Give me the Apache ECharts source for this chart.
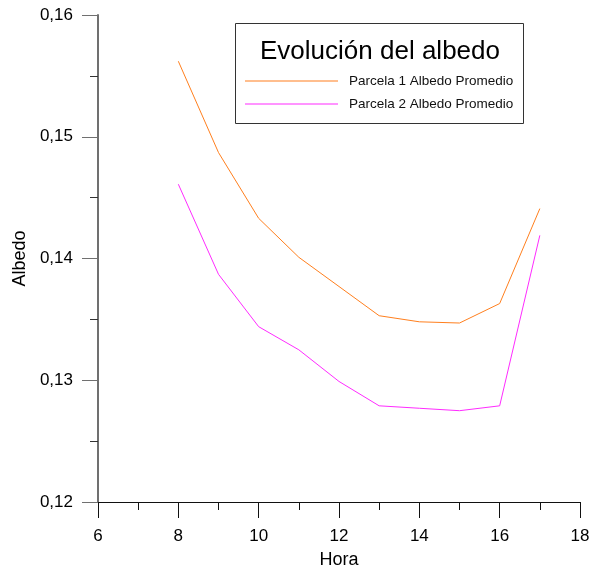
<!DOCTYPE html>
<html>
<head>
<meta charset="utf-8">
<script src="https://cdn.jsdelivr.net/npm/echarts@6/dist/echarts.min.js"></script>
<style>
  html, body { margin: 0; padding: 0; background: #fff; overflow: hidden; }
  #chart { width: 594px; height: 569px; }
</style>
</head>
<body>
<div id="chart"></div>
<script>
// Hours of the day
const horas = [8, 9, 10, 11, 12, 13, 14, 15, 16, 17];
// Mean albedo per plot
const parcela1 = [0.1562, 0.1487, 0.1433, 0.1401, 0.1377, 0.1353, 0.1348, 0.1347, 0.1363, 0.1441];
const parcela2 = [0.1461, 0.1387, 0.1344, 0.1325, 0.1299, 0.1279, 0.1277, 0.1275, 0.1279, 0.1419];
const nombres = ['Parcela 1 Albedo Promedio', 'Parcela 2 Albedo Promedio'];
const titulo = 'Evolución del albedo';

const font = 'Liberation Sans, Arial, sans-serif';
const chart = echarts.init(document.getElementById('chart'));

chart.setOption({
  animation: false,
  backgroundColor: '#ffffff',
  grid: { left: 98, top: 15, width: 482, height: 487, containLabel: false, outerBoundsMode: 'none' },
  xAxis: {
    type: 'value', min: 6, max: 18, interval: 2,
    name: 'Hora', nameLocation: 'middle', nameGap: 49,
    nameTextStyle: { fontFamily: font, fontSize: 18, color: '#000' },
    axisLine: { show: true, onZero: false, lineStyle: { color: '#111', width: 1 } },
    axisTick: { show: true, inside: false, length: 16, lineStyle: { color: '#111' } },
    minorTick: { show: true, splitNumber: 2, length: 8, lineStyle: { color: '#111' } },
    axisLabel: { margin: 26, fontFamily: font, fontSize: 17, color: '#000' },
    splitLine: { show: false }
  },
  yAxis: {
    type: 'value', min: 0.12, max: 0.16, interval: 0.01,
    name: 'Albedo', nameLocation: 'middle', nameGap: 61, nameRotate: 90,
    nameTextStyle: { fontFamily: font, fontSize: 18, color: '#000' },
    axisLine: { show: true, onZero: false, lineStyle: { color: '#707070', width: 2 } },
    axisTick: { show: true, inside: false, length: 16, lineStyle: { color: '#707070', width: 1 } },
    minorTick: { show: true, splitNumber: 2, length: 8, lineStyle: { color: '#333' } },
    axisLabel: {
      margin: 25, fontFamily: font, fontSize: 17, color: '#000',
      formatter: v => v.toFixed(2).replace('.', ',')
    },
    splitLine: { show: false }
  },
  legend: {
    data: nombres.map(n => ({ name: n, icon: 'rect' })),
    orient: 'vertical',
    left: 245, top: 73, padding: 0,
    itemWidth: 93, itemHeight: 1.2, itemGap: 7,
    textStyle: { fontFamily: font, fontSize: 13.5, color: '#111', padding: [0, 0, 0, 6], lineHeight: 16 },
    selectedMode: false
  },
  graphic: [
    {
      type: 'rect', left: 235, top: 23, z: -1,
      shape: { width: 288, height: 100 },
      style: { fill: '#fff', stroke: '#333', lineWidth: 1 }
    },
    {
      type: 'text', x: 380, y: 52,
      style: {
        text: titulo, fontFamily: font, fontSize: 26, fill: '#000',
        textAlign: 'center', textVerticalAlign: 'middle'
      }
    }
  ],
  series: [
    {
      name: nombres[0], type: 'line', symbol: 'none',
      data: horas.map((h, i) => [h, parcela1[i]]),
      lineStyle: { color: '#ff7f1e', width: 1 }, itemStyle: { color: '#ff7f1e' }
    },
    {
      name: nombres[1], type: 'line', symbol: 'none',
      data: horas.map((h, i) => [h, parcela2[i]]),
      lineStyle: { color: '#ff2bff', width: 1 }, itemStyle: { color: '#ff2bff' }
    }
  ]
});
</script>
</body>
</html>
